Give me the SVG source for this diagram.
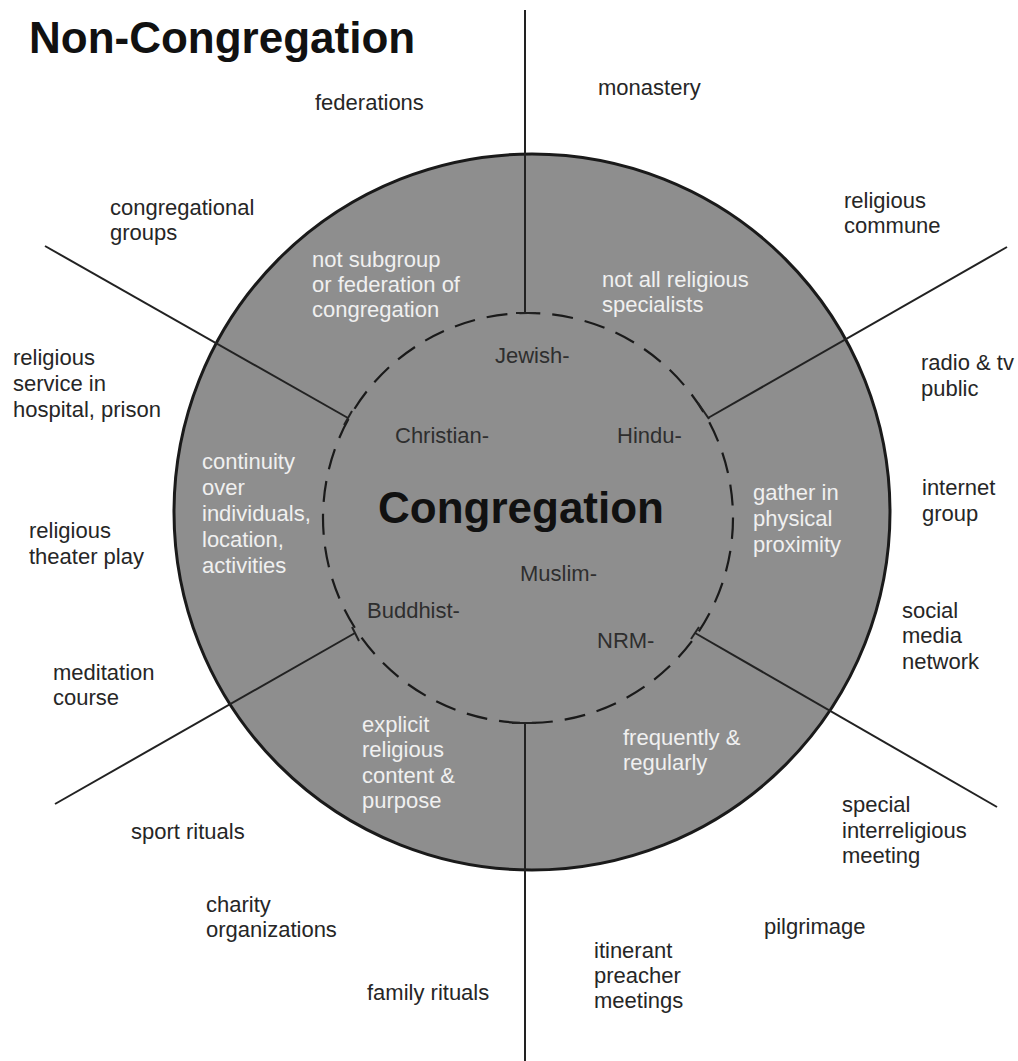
<svg xmlns="http://www.w3.org/2000/svg" width="1018" height="1061" viewBox="0 0 1018 1061">
<style>
text{font-family:"Liberation Sans",Arial,Helvetica,sans-serif;font-size:22px}
.blk{fill:#262626}
.wht{fill:#f0f0f0}
.inner{fill:#2e2e2e}
.title{font-weight:bold;font-size:44px;fill:#111}
.main{font-weight:bold;font-size:44px;fill:#111}
.conn{stroke:#222;stroke-width:2;fill:none}
</style>
<rect width="1018" height="1061" fill="#ffffff"/>
<g id="outer-circle"><circle cx="532" cy="512" r="358" fill="#8e8e8e" stroke="#1a1a1a" stroke-width="3"/></g>
<g id="inner-circle"><circle cx="528" cy="518" r="205" fill="none" stroke="#1a1a1a" stroke-width="2.2" stroke-dasharray="21 12"/></g>
<g id="connectors" class="conn">
<line x1="525" y1="10" x2="525" y2="313"/><line x1="516" y1="313" x2="536" y2="313"/>
<line x1="525" y1="723" x2="525" y2="1061"/><line x1="512" y1="723" x2="536" y2="723"/>
<line x1="45" y1="246" x2="348" y2="418"/><line x1="352" y1="411" x2="344" y2="425"/>
<line x1="1007" y1="247" x2="708" y2="418"/><line x1="698" y1="403" x2="709" y2="419"/>
<line x1="55" y1="804" x2="355" y2="633"/><line x1="352" y1="627" x2="359" y2="641"/>
<line x1="997" y1="807" x2="695" y2="633"/><line x1="691" y1="639" x2="699" y2="627"/>
</g>
<g id="title"><text class="title" x="29" y="53">Non-Congregation</text></g>
<g id="congregation"><text class="main" x="521" y="523" text-anchor="middle">Congregation</text></g>
<g id="religions">
<text class="inner" x="495" y="363">Jewish-</text>
<text class="inner" x="395" y="443">Christian-</text>
<text class="inner" x="617" y="443">Hindu-</text>
<text class="inner" x="520" y="581">Muslim-</text>
<text class="inner" x="367" y="618">Buddhist-</text>
<text class="inner" x="597" y="648">NRM-</text>
</g>
<g id="criteria">
<text class="wht" x="312" y="267">not subgroup<tspan x="312" y="292">or federation of</tspan><tspan x="312" y="317">congregation</tspan></text>
<text class="wht" x="602" y="287">not all religious<tspan x="602" y="312">specialists</tspan></text>
<text class="wht" x="202" y="469">continuity<tspan x="202" y="495">over</tspan><tspan x="202" y="521">individuals,</tspan><tspan x="202" y="547">location,</tspan><tspan x="202" y="573">activities</tspan></text>
<text class="wht" x="753" y="500">gather in<tspan x="753" y="526">physical</tspan><tspan x="753" y="552">proximity</tspan></text>
<text class="wht" x="623" y="745">frequently &amp;<tspan x="623" y="770">regularly</tspan></text>
<text class="wht" x="362" y="732">explicit<tspan x="362" y="757">religious</tspan><tspan x="362" y="783">content &amp;</tspan><tspan x="362" y="808">purpose</tspan></text>
</g>
<g id="non-congregation">
<text class="blk" x="315" y="110">federations</text>
<text class="blk" x="598" y="95">monastery</text>
<text class="blk" x="110" y="215">congregational<tspan x="110" y="240">groups</tspan></text>
<text class="blk" x="844" y="208">religious<tspan x="844" y="233">commune</tspan></text>
<text class="blk" x="13" y="365">religious<tspan x="13" y="391">service in</tspan><tspan x="13" y="417">hospital, prison</tspan></text>
<text class="blk" x="921" y="370">radio &amp; tv<tspan x="921" y="396">public</tspan></text>
<text class="blk" x="922" y="495">internet<tspan x="922" y="521">group</tspan></text>
<text class="blk" x="29" y="538">religious<tspan x="29" y="564">theater play</tspan></text>
<text class="blk" x="902" y="618">social<tspan x="902" y="643">media</tspan><tspan x="902" y="669">network</tspan></text>
<text class="blk" x="53" y="680">meditation<tspan x="53" y="705">course</tspan></text>
<text class="blk" x="131" y="839">sport rituals</text>
<text class="blk" x="842" y="812">special<tspan x="842" y="838">interreligious</tspan><tspan x="842" y="863">meeting</tspan></text>
<text class="blk" x="206" y="912">charity<tspan x="206" y="937">organizations</tspan></text>
<text class="blk" x="764" y="934">pilgrimage</text>
<text class="blk" x="594" y="958">itinerant<tspan x="594" y="983">preacher</tspan><tspan x="594" y="1008">meetings</tspan></text>
<text class="blk" x="367" y="1000">family rituals</text>
</g>
</svg>
